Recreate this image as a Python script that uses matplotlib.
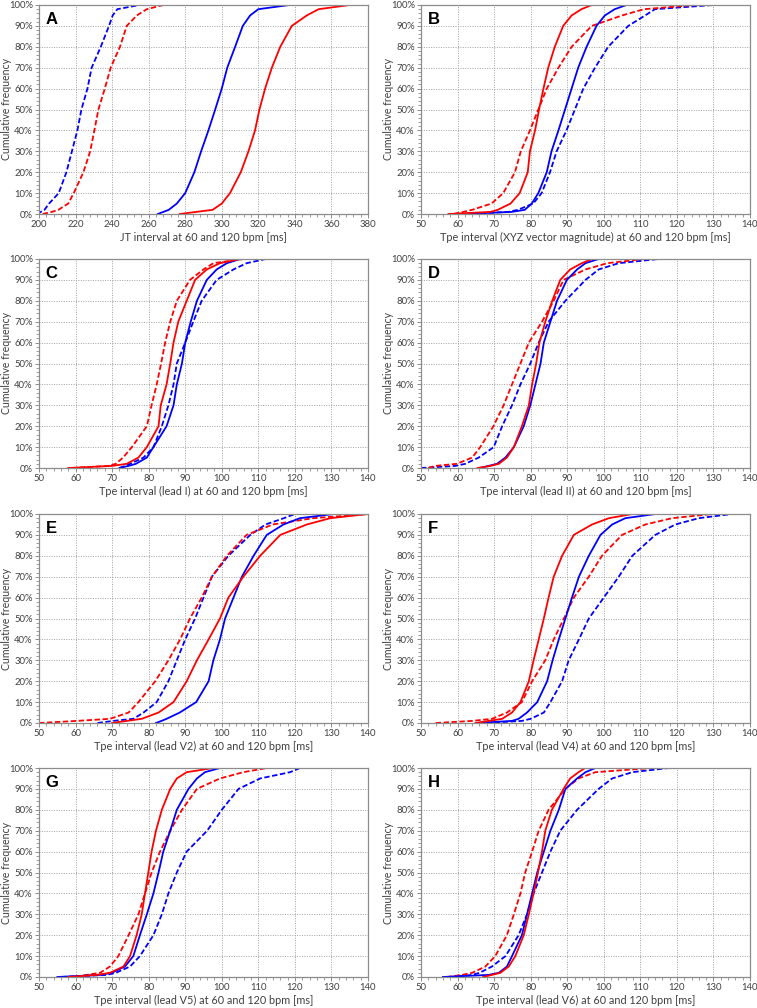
import matplotlib
matplotlib.use("Agg")
import matplotlib.pyplot as plt
from matplotlib.ticker import MultipleLocator, PercentFormatter

# Cumulative frequency levels (%) at which the x-values are read
LEVELS = [0, 1, 2, 5, 10, 20, 30, 40, 50, 60, 70, 80, 90, 95, 98, 100]

# Panel A: JT interval
A_red_solid = [277, 286, 295, 300, 304.5, 310.4, 314.6, 318.2, 320.6, 323.7, 327.4, 332, 338.3, 346.5, 353, 370]
A_red_dashed = [202, 207, 210.6, 216, 219, 224.3, 228, 230.3, 232.5, 236, 239.2, 244.3, 248, 253.5, 259, 268]
A_blue_solid = [265, 268, 271, 275.4, 280, 285, 288.7, 292.7, 296.4, 300, 303, 307.3, 311.5, 315.5, 320, 337]
A_blue_dashed = [199, 201, 203, 205.5, 210.8, 215, 218, 221, 223.2, 226.5, 228.8, 233.8, 238.3, 240.3, 242.9, 255]

# Panel B: Tpe XYZ vector magnitude
B_red_solid = [57.5, 69, 71, 74.5, 77, 79.2, 79.8, 81.2, 82.3, 83.5, 84.8, 86.6, 88.9, 91.2, 93.9, 96.7]
B_red_dashed = [59, 61.5, 64, 69.3, 72.5, 75.7, 77.3, 79.8, 82.1, 84.4, 87.6, 91.2, 96.7, 105, 111, 125]
B_blue_solid = [61, 74.8, 78.4, 80.3, 82.1, 84.4, 85.7, 87.6, 89.4, 91.2, 93, 95.3, 98, 100.3, 103, 106.2]
B_blue_dashed = [62, 73.9, 76.5, 80.7, 83, 85.3, 87.1, 89.8, 92.1, 94.4, 97.6, 101.2, 106.7, 111.3, 114, 130]

# Panel C: lead I
C_red_solid = [58, 70, 74, 77.2, 79.5, 82.7, 83.3, 84.9, 85.9, 86.8, 88.1, 90.4, 92.7, 95.9, 99.5, 105]
C_red_dashed = [59, 69, 71, 73, 75.4, 79.5, 80.8, 82.2, 83.4, 84.5, 85.9, 87.7, 91.3, 95, 97.7, 106]
C_blue_solid = [72, 74.5, 76.5, 79.5, 81.3, 84.9, 86.8, 87.7, 89.1, 90, 91.5, 93.2, 95.9, 98.6, 101.4, 105]
C_blue_dashed = [72, 73.5, 74.9, 78.6, 81.3, 83.6, 85.4, 86.8, 87.7, 90, 92.2, 94.5, 98.6, 103.2, 106.8, 112]

# Panel D: lead II
D_red_solid = [65.5, 69, 71.3, 73.5, 75.4, 77.6, 79.5, 80.4, 81.5, 82.4, 84, 85.9, 88.1, 90.8, 94, 96.8]
D_red_dashed = [52, 53.9, 59.8, 64, 66.2, 69.8, 72.6, 74.9, 77.2, 79.5, 83.1, 86.3, 89, 95, 101, 111]
D_blue_solid = [66, 68.5, 70.8, 73.1, 75.4, 78.1, 79.9, 81.3, 82.7, 83.6, 85.4, 87.2, 89.9, 92.7, 95, 98.6]
D_blue_dashed = [50, 59.4, 62.1, 65.8, 69.9, 72.2, 74.9, 77.2, 79.9, 82.2, 84.9, 89.5, 95, 98.6, 104.1, 115]

# Panel E: lead V2
E_red_solid = [70, 74, 78.1, 82.7, 86.8, 90.4, 93.2, 96.4, 99.5, 101.8, 105.9, 110.5, 116, 123.3, 129.7, 140]
E_red_dashed = [50, 60.3, 69.4, 74.5, 77.2, 81.8, 85.4, 88.6, 91.3, 94.5, 97.3, 101.4, 106.8, 114, 125, 140]
E_blue_solid = [82, 83.5, 84.9, 88.5, 93, 96.4, 97.7, 99.5, 100.9, 103.2, 105.5, 108.7, 112.3, 116.9, 121.4, 130.6]
E_blue_dashed = [66, 70.3, 75.8, 78.6, 82.2, 85.4, 87.7, 90, 92.7, 95, 97.3, 101.8, 107.8, 112, 117, 120]

# Panel F: lead V4
F_red_solid = [65, 68.5, 72.2, 74.9, 77.2, 79.5, 80.8, 82.2, 83.6, 84.9, 86.3, 88.6, 91.8, 96.8, 101.4, 107.8]
F_red_dashed = [54, 64, 69.4, 73.5, 77.6, 80.4, 84, 86.3, 89.1, 91.8, 95.9, 99.5, 105, 111.4, 118.7, 129.7]
F_blue_solid = [65, 74.9, 76.7, 79, 81.8, 84.5, 86, 87.7, 89.5, 91.3, 93.2, 95.9, 99.1, 102.3, 105.9, 114.1]
F_blue_dashed = [68, 77.6, 80, 83.6, 85.4, 88.6, 90.4, 93.2, 95.9, 100, 104.1, 107.8, 114.1, 119.6, 126, 135.1]

# Panel G: lead V5
G_red_solid = [58, 65.8, 69.4, 73.1, 74.9, 76.7, 78.1, 79, 79.9, 80.8, 82, 83.6, 85.9, 87.7, 90.4, 97.7]
G_red_dashed = [60, 63, 66.7, 69.4, 71.7, 74.5, 77.2, 79, 80.8, 83.1, 85.9, 89.1, 93.2, 99.5, 105.9, 112.3]
G_blue_solid = [55, 66.7, 69.9, 73.5, 75.8, 77.6, 79.5, 81.3, 82.7, 84, 85.9, 87.7, 90.9, 93.2, 95.4, 99.5]
G_blue_dashed = [56, 68.5, 71, 74.9, 77.6, 81.3, 83.6, 85.4, 87.7, 90.4, 96, 100, 104.6, 110.5, 118.7, 121.4]

# Panel H: lead V6
H_red_solid = [67, 69.4, 71.7, 74, 75.8, 78.1, 79.5, 80.8, 82, 83.1, 84, 85.8, 89, 90.8, 93.1, 94.9]
H_red_dashed = [57, 61.2, 64, 67.6, 70.3, 73.5, 75.4, 77.2, 78.5, 80.4, 82.2, 84.9, 89.5, 93.1, 97.7, 113.2]
H_blue_solid = [56, 68.5, 71.3, 73.5, 74.9, 77.6, 79, 80.4, 81.8, 83.6, 85.4, 87.7, 89.5, 92.7, 95, 97.7]
H_blue_dashed = [58, 64, 66, 69.4, 73.1, 76.7, 79, 80.8, 83.1, 85.4, 88.1, 92.7, 98.6, 102.3, 107.8, 117.8]

PANEL_LETTERS = ["A", "B", "C", "D", "E", "F", "G", "H"]
XLABELS = [
    "JT interval at 60 and 120 bpm [ms]",
    "Tpe interval (XYZ vector magnitude) at 60 and 120 bpm [ms]",
    "Tpe interval (lead I) at 60 and 120 bpm [ms]",
    "Tpe interval (lead II) at 60 and 120 bpm [ms]",
    "Tpe interval (lead V2) at 60 and 120 bpm [ms]",
    "Tpe interval (lead V4) at 60 and 120 bpm [ms]",
    "Tpe interval (lead V5) at 60 and 120 bpm [ms]",
    "Tpe interval (lead V6) at 60 and 120 bpm [ms]",
]
PANEL_DATA = [
    (A_red_solid, A_red_dashed, A_blue_solid, A_blue_dashed),
    (B_red_solid, B_red_dashed, B_blue_solid, B_blue_dashed),
    (C_red_solid, C_red_dashed, C_blue_solid, C_blue_dashed),
    (D_red_solid, D_red_dashed, D_blue_solid, D_blue_dashed),
    (E_red_solid, E_red_dashed, E_blue_solid, E_blue_dashed),
    (F_red_solid, F_red_dashed, F_blue_solid, F_blue_dashed),
    (G_red_solid, G_red_dashed, G_blue_solid, G_blue_dashed),
    (H_red_solid, H_red_dashed, H_blue_solid, H_blue_dashed),
]

plt.rcParams['font.family'] = ['Lato', 'DejaVu Sans']

W, H = 757, 1008
fig = plt.figure(figsize=(W / 100, H / 100), dpi=100)

col_left = [39, 421]
ax_w = 329
row_top = [5, 259, 514, 768]
ax_h = 209
ylabel_px = [6.5, 389]

RED = '#ff0000'
BLUE = '#0000ff'
GRID = '#a0a0a0'
SPINE = '#8c8c8c'
TXT = '#404040'

for i in range(8):
    r, c = divmod(i, 2)
    left = col_left[c] / W
    bottom = 1 - (row_top[r] + ax_h) / H
    ax = fig.add_axes([left, bottom, ax_w / W, ax_h / H])
    rs, rd, bs, bd = PANEL_DATA[i]
    kw = dict(lw=1.3, solid_joinstyle='round')
    ax.plot(bd, LEVELS, color=BLUE, linestyle=(0, (3, 1.4)), **kw)
    ax.plot(rd, LEVELS, color=RED, linestyle=(0, (3, 1.4)), **kw)
    ax.plot(bs, LEVELS, color=BLUE, **kw)
    ax.plot(rs, LEVELS, color=RED, **kw)

    if i == 0:
        ax.set_xlim(200, 380)
        ax.xaxis.set_major_locator(MultipleLocator(20))
        ax.xaxis.set_minor_locator(MultipleLocator(4))
    else:
        ax.set_xlim(50, 140)
        ax.xaxis.set_major_locator(MultipleLocator(10))
        ax.xaxis.set_minor_locator(MultipleLocator(2))
    ax.set_ylim(0, 100)
    ax.yaxis.set_major_locator(MultipleLocator(10))
    ax.yaxis.set_minor_locator(MultipleLocator(2))
    ax.yaxis.set_major_formatter(PercentFormatter(decimals=0))

    ax.grid(True, which='major', linestyle=(0, (1, 1.5)), color=GRID, lw=0.7)
    ax.set_axisbelow(True)
    for sp in ax.spines.values():
        sp.set_color(SPINE)
        sp.set_linewidth(0.9)
    ax.tick_params(axis='both', which='major', labelsize=6.8, colors=SPINE,
                   labelcolor=TXT, length=3, width=0.7, direction='out', pad=1.5)
    ax.tick_params(axis='both', which='minor', colors=SPINE, length=2, width=0.6,
                   direction='out')
    ax.set_xlabel(XLABELS[i], fontsize=7.8, color=TXT, labelpad=2)
    ax.set_ylabel("Cumulative frequency", fontsize=7.6, color=TXT, va='center')
    ax.yaxis.set_label_coords((ylabel_px[c] - col_left[c]) / ax_w, 0.5)
    ax.text(0.02, 0.965, PANEL_LETTERS[i], transform=ax.transAxes, ha='left', va='top',
            fontsize=12, fontweight='bold', family=['Liberation Sans', 'DejaVu Sans'],
            color='black')

fig.savefig("out.png", dpi=100, facecolor='white')
